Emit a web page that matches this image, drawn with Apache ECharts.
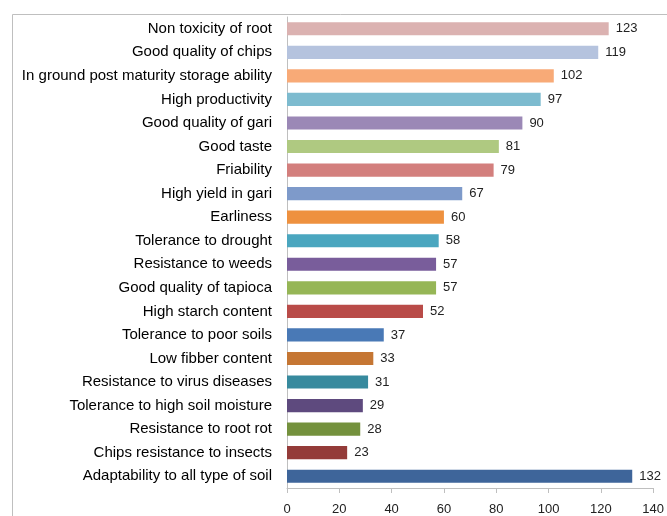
<!DOCTYPE html>
<html><head><meta charset="utf-8">
<script src="https://cdn.jsdelivr.net/npm/echarts@6/dist/echarts.min.js"></script>
<style>html,body{margin:0;padding:0;background:#fff}#c{width:667px;height:516px}</style>
</head><body><div id="c"></div>
<script>
const categories = [
  "Non toxicity of root",
  "Good quality of chips",
  "In ground post maturity storage ability",
  "High productivity",
  "Good quality of gari",
  "Good taste",
  "Friability",
  "High yield in gari",
  "Earliness",
  "Tolerance to drought",
  "Resistance to weeds",
  "Good quality of tapioca",
  "High starch content",
  "Tolerance to poor soils",
  "Low fibber content",
  "Resistance to virus diseases",
  "Tolerance to high soil moisture",
  "Resistance to root rot",
  "Chips resistance to insects",
  "Adaptability to all type of soil"
];
const values = [123, 119, 102, 97, 90, 81, 79, 67, 60, 58, 57, 57, 52, 37, 33, 31, 29, 28, 23, 132];
const barColors = [
  "#DBB2B1", "#B5C3DE", "#F8AA77", "#7DBBCF", "#9B88B6", "#AFC981", "#D37F7D", "#7E9ACA",
  "#EE913F", "#4AA6BF", "#795D9B", "#96B656", "#B94B48", "#4979B6", "#C57633", "#378A9E",
  "#5E4A7E", "#74913D", "#943B39", "#3E659A"
];
const xTicks = [0, 20, 40, 60, 80, 100, 120, 140];

const chart = echarts.init(document.getElementById('c'));
const font = "'Liberation Sans', Arial, sans-serif";
chart.setOption({
  animation: false,
  textStyle: { fontFamily: font },
  graphic: [{
    type: 'rect', left: 10, top: 12,
    shape: { width: 700, height: 520 },
    style: { fill: 'none', stroke: '#BFBFBF', lineWidth: 1 }
  }],
  grid: { left: 287, right: 7, top: 17, bottom: 28, containLabel: false },
  xAxis: {
    type: 'value', min: xTicks[0], max: xTicks[xTicks.length - 1], interval: 20,
    splitLine: { show: false },
    axisLine: { show: true, lineStyle: { color: '#BFBFBF' } },
    axisTick: { show: true, length: 5, lineStyle: { color: '#BFBFBF' } },
    axisLabel: { color: '#222', fontSize: 13, margin: 15, fontFamily: font }
  },
  yAxis: {
    type: 'category', data: categories, inverse: true,
    axisLine: { show: true, lineStyle: { color: '#BFBFBF' } },
    axisTick: { show: false },
    axisLabel: { color: '#000', fontSize: 15, margin: 15, fontFamily: font }
  },
  series: [{
    type: 'bar',
    data: values.map((v, i) => ({ value: v, itemStyle: { color: barColors[i] } })),
    barWidth: '56%',
    label: { show: true, position: 'right', distance: 7, color: '#222', fontSize: 13, fontFamily: font }
  }]
});
</script></body></html>
